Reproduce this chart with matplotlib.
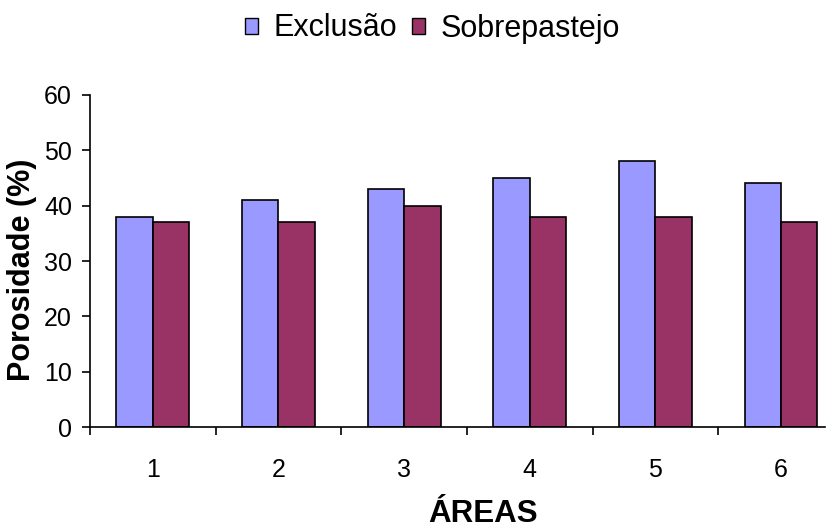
import matplotlib
matplotlib.use("Agg")
import matplotlib.pyplot as plt
from matplotlib.patches import Patch
from matplotlib.ticker import FixedLocator
import numpy as np

plt.rcParams['font.family'] = ['Liberation Sans', 'DejaVu Sans']

areas = ['1', '2', '3', '4', '5', '6']
exclusao = [38, 41, 43, 45, 48, 44]
sobrepastejo = [37, 37, 40, 38, 38, 37]
series_names = ['Exclusão', 'Sobrepastejo']
colors = ['#9999FF', '#993366']
y_ticks = [0, 10, 20, 30, 40, 50, 60]

W, H = 834, 530
fig = plt.figure(figsize=(W / 100, H / 100), dpi=100)

left, right, bottom, top = 90, 825, 427.3, 94.7
ax = fig.add_axes([left / W, 1 - bottom / H, (right - left) / W, (bottom - top) / H])

x = np.arange(len(areas))
w = 0.29
ax.bar(x - w / 2, exclusao, w, color=colors[0], edgecolor='black', linewidth=1.2)
ax.bar(x + w / 2, sobrepastejo, w, color=colors[1], edgecolor='black', linewidth=1.2)

ax.set_xlim(-0.5, 5.35)
ax.set_ylim(0, 60)
ax.set_yticks(y_ticks)
ax.set_xticks(x)
ax.set_xticklabels(areas)
ax.xaxis.set_minor_locator(FixedLocator(np.arange(-0.5, 5.6, 1.0)))

ax.tick_params(axis='x', which='major', length=0, pad=22, labelsize=18)
ax.tick_params(axis='x', which='minor', length=6, width=1.2, direction='out')
ax.tick_params(axis='y', length=6, width=1.2, direction='out', pad=7, labelsize=18)

for s in ['top', 'right']:
    ax.spines[s].set_visible(False)
for s in ['left', 'bottom']:
    ax.spines[s].set_linewidth(1.2)

fig.text(22 / W, 1 - 270 / H, 'Porosidade (%)', rotation=90, ha='center', va='center',
         fontsize=22, fontweight='bold')
fig.text(482.6 / W, 1 - 522.5 / H, 'ÁREAS', ha='center', va='baseline',
         fontsize=22.5, fontweight='bold')

handles = [Patch(facecolor=c, edgecolor='black', linewidth=1.0) for c in colors]
fig.legend(handles, series_names, loc='center', ncol=2, frameon=False,
           bbox_to_anchor=(432.5 / W, 1 - 28.5 / H), fontsize=22,
           handlelength=0.43, handleheight=0.43, handletextpad=0.5,
           columnspacing=0.5, borderpad=0, borderaxespad=0)

fig.savefig('out.png', dpi=100)
